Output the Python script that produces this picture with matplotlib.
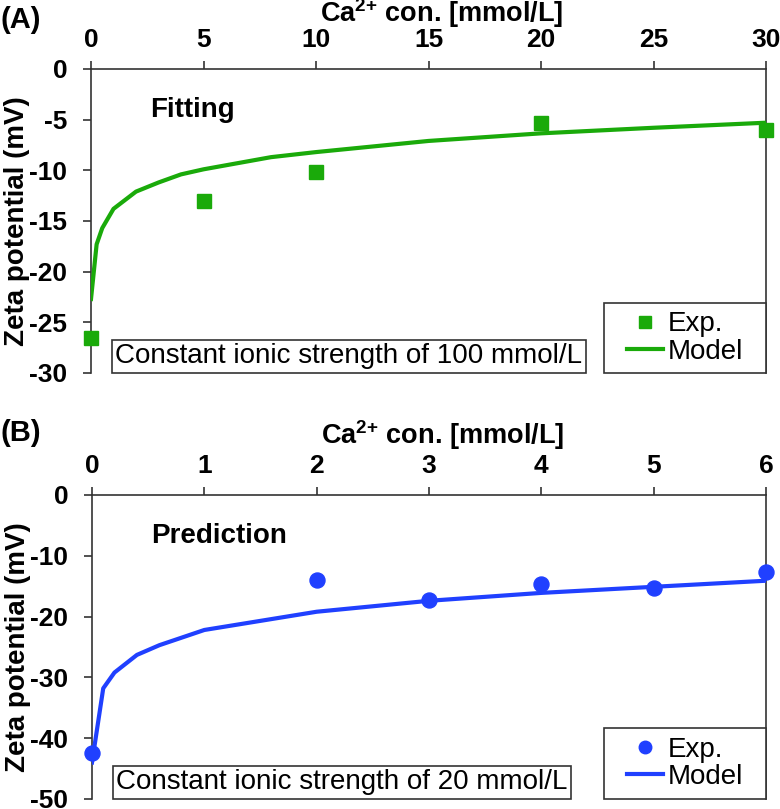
import matplotlib.pyplot as plt
from matplotlib.lines import Line2D
from matplotlib.patches import Rectangle

plt.rcParams['font.family'] = ['Liberation Sans', 'DejaVu Sans']
plt.rcParams['mathtext.fontset'] = 'custom'
plt.rcParams['mathtext.rm'] = 'Liberation Sans'
plt.rcParams['mathtext.bf'] = 'Liberation Sans:bold'

# panel A: constant ionic strength 100 mmol/L
a_exp_x = [0, 5, 10, 20, 30]
a_exp_y = [-26.5, -13.0, -10.2, -5.3, -6.0]
a_mod_x = [0, 0.25, 0.5, 1, 2, 3, 4, 5, 6, 8, 10, 15, 20, 25, 30]
a_mod_y = [-22.7, -17.3, -15.7, -13.8, -12.1, -11.2, -10.4, -9.9, -9.5, -8.7, -8.2, -7.1, -6.35, -5.8, -5.3]

# panel B: constant ionic strength 20 mmol/L
b_exp_x = [0, 2, 3, 4, 5, 6]
b_exp_y = [-42.5, -14.0, -17.2, -14.6, -15.3, -12.6]
b_mod_x = [0, 0.1, 0.2, 0.4, 0.6, 1, 2, 3, 4, 5, 6]
b_mod_y = [-44.0, -31.8, -29.2, -26.3, -24.7, -22.2, -19.2, -17.4, -16.1, -15.1, -14.1]

green = '#1aaa0a'
blue = '#2040ff'
spine_c = '#333333'
xlabel = r'Ca$^{\mathbf{2{+}}}$ con. [mmol/L]'

fig = plt.figure(figsize=(7.8, 8.09), dpi=100)
axA = fig.add_axes([91/780, 1-373/809, 675/780, 304/809])
axB = fig.add_axes([92/780, 1-799/809, 674/780, 304/809])


def style(ax, xlim, ylim, xticks, yticks):
    ax.set_xlim(*xlim)
    ax.set_ylim(*ylim)
    ax.set_xticks(xticks)
    ax.set_yticks(yticks)
    ax.set_yticklabels([str(v) for v in yticks])  # plain hyphen minus
    ax.xaxis.tick_top()
    ax.spines['bottom'].set_visible(False)
    for s in ['top', 'left', 'right']:
        ax.spines[s].set_color(spine_c)
        ax.spines[s].set_linewidth(1.2)
    ax.tick_params(axis='both', direction='out', length=6, width=1.2, color=spine_c,
                   labelsize=19)
    ax.tick_params(axis='x', pad=6)
    ax.tick_params(axis='y', pad=11)
    for lab in ax.get_xticklabels() + ax.get_yticklabels():
        lab.set_fontweight('bold')


def boxes(ax, note, fc, marker, leg_h):
    ax.text(0.036, 0.012, note, transform=ax.transAxes, fontsize=20, ha='left', va='bottom',
            bbox=dict(boxstyle='square,pad=0.12', fc='white', ec=spine_c, lw=1.2))
    ax.add_patch(Rectangle((0.76, 0.0), 0.24, leg_h, transform=ax.transAxes, fc='white',
                           ec=spine_c, lw=1.2, clip_on=False, zorder=6))
    handles = [Line2D([], [], ls='none', marker=marker, color=fc, markersize=9),
               Line2D([], [], color=fc, lw=3)]
    leg = ax.legend(handles, ['Exp.', 'Model'], loc='center',
                    bbox_to_anchor=(0.76, 0.0, 0.24, leg_h), fontsize=20, frameon=False,
                    borderaxespad=0, handlelength=1.3, handletextpad=0.15, borderpad=0.0,
                    labelspacing=0.05)
    leg.set_zorder(7)


# ---- panel A
style(axA, (0, 30), (-30, 0), [0, 5, 10, 15, 20, 25, 30], [0, -5, -10, -15, -20, -25, -30])
axA.plot(a_mod_x, a_mod_y, color=green, lw=3, zorder=3)
axA.plot(a_exp_x, a_exp_y, ls='none', marker='s', color=green, markersize=10.3,
         clip_on=False, zorder=5)
axA.text(0.087, 0.865, 'Fitting', transform=axA.transAxes, fontsize=20, fontweight='bold',
         ha='left', va='center')
boxes(axA, 'Constant ionic strength of 100 mmol/L', green, 's', 70/304)
axA.text(0.52, 1.155, xlabel, transform=axA.transAxes, fontsize=19.5,
         fontweight='bold', ha='center', va='baseline')
axA.text(-0.11, 0.5, 'Zeta potential (mV)', transform=axA.transAxes, fontsize=20,
         fontweight='bold', rotation=90, ha='center', va='center')
fig.text(0.027, 1-20/809, '(A)', fontsize=21, fontweight='bold', ha='center', va='center')

# ---- panel B
style(axB, (0, 6), (-50, 0), [0, 1, 2, 3, 4, 5, 6], [0, -10, -20, -30, -40, -50])
axB.plot(b_mod_x, b_mod_y, color=blue, lw=3, zorder=3)
axB.plot(b_exp_x, b_exp_y, ls='none', marker='o', color=blue, markersize=10.8,
         clip_on=False, zorder=5)
axB.text(0.087, 0.865, 'Prediction', transform=axB.transAxes, fontsize=20, fontweight='bold',
         ha='left', va='center')
boxes(axB, 'Constant ionic strength of 20 mmol/L', blue, 'o', 71/304)
axB.text(0.52, 1.168, xlabel, transform=axB.transAxes, fontsize=19.5,
         fontweight='bold', ha='center', va='baseline')
axB.text(-0.11, 0.5, 'Zeta potential (mV)', transform=axB.transAxes, fontsize=20,
         fontweight='bold', rotation=90, ha='center', va='center')
fig.text(0.027, 1-433/809, '(B)', fontsize=21, fontweight='bold', ha='center', va='center')

fig.savefig('out.png', dpi=100)
